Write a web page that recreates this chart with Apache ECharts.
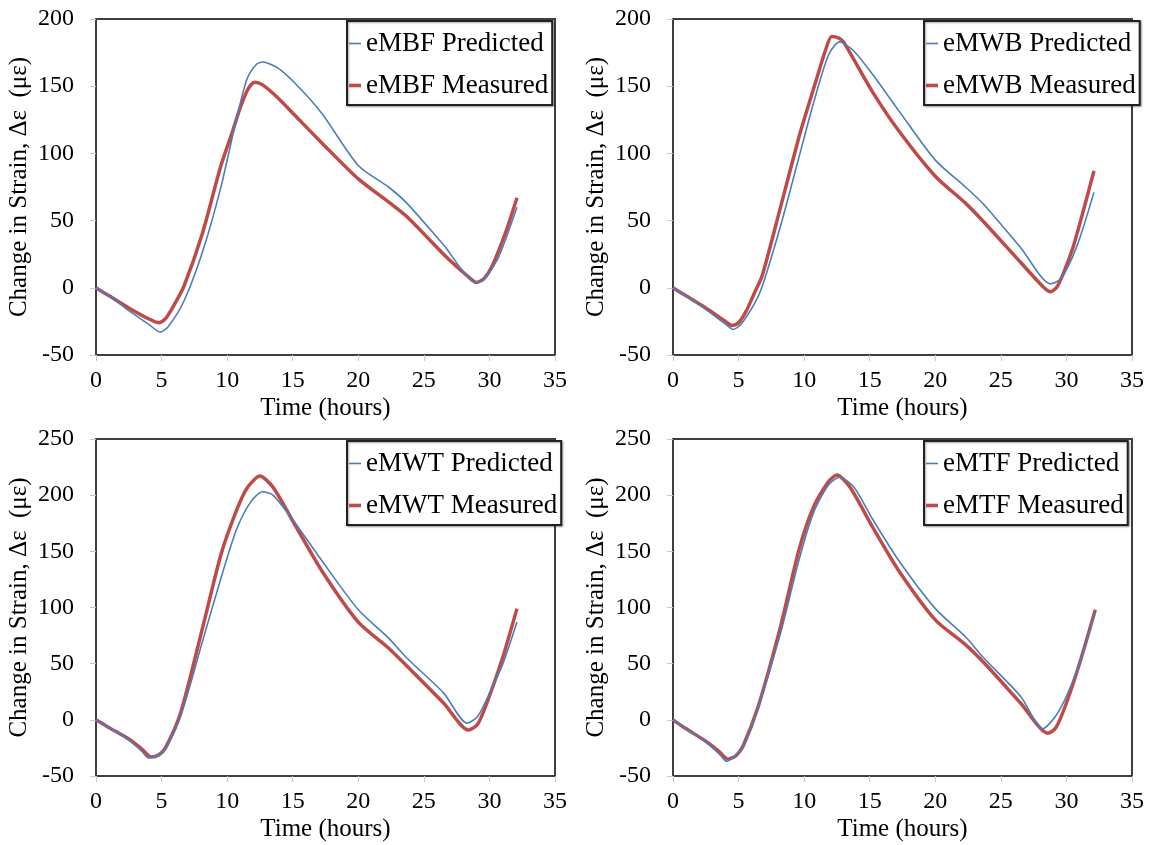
<!DOCTYPE html>
<html>
<head>
<meta charset="utf-8">
<script src="https://cdn.jsdelivr.net/npm/echarts@6/dist/echarts.min.js"></script>
<style>
  html, body { margin: 0; padding: 0; background: #ffffff; }
  #chart { width: 1157px; height: 845px; }
</style>
</head>
<body>
<div id="chart"></div>
<script>
// Strain change over time at four gauge locations: predicted vs measured.
const mbfPredTime = [0, 1, 2.5, 4, 4.9, 5.5, 6.7, 8.1, 9.5, 10.7, 11.5, 12.2, 12.7, 13.8, 15.2, 17.2, 20, 22.3, 23.7, 26.5, 29, 29.6, 30.7, 32.1];
const mbfPredicted = [0, -6, -17, -27, -33, -29, -10, 26, 74, 125, 155, 166, 168, 164, 152, 130, 91, 75, 63, 32, 4, 6, 23, 60];
const mbfMeasTime = [0, 1, 2.5, 4, 4.8, 5.3, 6, 6.7, 8.1, 9.5, 10.4, 11, 11.6, 12.1, 12.7, 13.8, 15.2, 17.2, 20, 22.3, 23.7, 26.5, 28.3, 29, 29.6, 30.2, 31.3, 32.1];
const mbfMeasured = [0, -6, -15, -23, -26, -23, -12, 1, 40, 90, 116, 134, 148, 153, 151, 142, 128, 108, 81, 64, 53, 25, 9, 4, 7, 16, 43, 67];

const mwbPredTime = [0, 1, 2.5, 4, 4.6, 5.2, 6.2, 6.8, 8.2, 9.6, 10.7, 11.85, 12.7, 13.8, 15.2, 17.2, 20, 22.3, 23.7, 26.5, 28.8, 29.6, 30.8, 32.1];
const mwbPredicted = [0, -6, -16, -27, -31, -27, -12, 1, 46, 97, 137, 173, 183, 176, 159, 132, 95, 75, 62, 30, 3, 7, 31, 71];
const mwbMeasTime = [0, 1, 2.5, 4, 4.5, 5, 5.6, 6.2, 6.8, 8.2, 9.6, 10.4, 11, 11.6, 12.1, 12.6, 13, 15.2, 17.2, 20, 22.3, 23.7, 26.5, 28.2, 28.8, 29.3, 29.9, 30.5, 31, 31.5, 32.1];
const mwbMeasured = [0, -6, -15, -25, -28, -26, -17, -4, 9, 60, 112, 138, 157, 176, 187, 186, 183, 146, 117, 83, 63, 49, 19, 1, -3, 1, 14, 30, 47, 65, 87];

const mwtPredTime = [0, 1, 2.5, 3.5, 4.0, 4.6, 5.3, 6.45, 8.15, 9.55, 10.7, 11.8, 12.7, 13.5, 15.2, 17.2, 20, 22.3, 23.7, 26.5, 28.3, 29.1, 29.9, 31, 32.1];
const mwtPredicted = [0, -7, -18, -28, -34, -32, -26, 3, 71, 127, 169, 194, 203, 200, 175, 142, 98, 73, 55, 24, -3, 3, 21, 49, 87];
const mwtMeasTime = [0, 1, 2.5, 3.5, 4.2, 4.8, 5.3, 6.45, 8.15, 9.55, 10.7, 11.5, 12.5, 13.5, 15.2, 17.2, 20, 22.3, 23.7, 26.5, 28.4, 29.1, 29.9, 31, 32.1];
const mwtMeasured = [0, -7, -17, -26, -33, -31, -25, 6, 83, 148, 186, 206, 217, 207, 173, 133, 87, 64, 48, 15, -9, -4, 18, 55, 99];

const mtfPredTime = [0, 1, 2.5, 3.5, 4.1, 4.7, 5.35, 6.5, 8.2, 9.6, 10.7, 11.85, 12.7, 13.8, 15.2, 17.2, 20, 22.3, 23.7, 26.5, 28.2, 29.1, 30, 31.1, 32.2];
const mtfPredicted = [0, -8, -20, -30, -37, -32, -25, 11, 77, 142, 184, 209, 216, 207, 179, 142, 99, 74, 55, 21, -8, 2, 21, 54, 96];
const mtfMeasTime = [0, 1, 2.5, 3.5, 4.2, 4.8, 5.35, 6.5, 8.2, 9.6, 10.7, 11.85, 12.5, 13.5, 15.2, 17.2, 20, 22.3, 23.7, 26.5, 28.6, 29.2, 30, 31.1, 32.2];
const mtfMeasured = [0, -8, -19, -28, -35, -32, -23, 12, 83, 151, 189, 212, 218, 207, 172, 133, 89, 67, 51, 15, -12, -7, 15, 54, 98];

const panelNames = ['eMBF', 'eMWB', 'eMWT', 'eMTF'];
const yMax = [200, 200, 250, 250];

const FONT = '"Liberation Serif", "Times New Roman", serif';
const BLUE = '#4a7ebb';
const RED = '#be4b48';

// legend swatches: a short horizontal bar centred in a 12x14 box
const PRED_ICON = 'path://M0,0L0,0M12,14L12,14M0,6.2H12V7.8H0Z';
const MEAS_ICON = 'path://M0,0L0,0M12,14L12,14M0,5.2H12V8.8H0Z';

const pairs = (t, v) => t.map((x, i) => [x, v[i]]);

const panels = [
  { pred: pairs(mbfPredTime, mbfPredicted), meas: pairs(mbfMeasTime, mbfMeasured) },
  { pred: pairs(mwbPredTime, mwbPredicted), meas: pairs(mwbMeasTime, mwbMeasured) },
  { pred: pairs(mwtPredTime, mwtPredicted), meas: pairs(mwtMeasTime, mwtMeasured) },
  { pred: pairs(mtfPredTime, mtfPredicted), meas: pairs(mtfMeasTime, mtfMeasured) }
];

const layout = [
  { left: 96, top: 19, height: 336 },
  { left: 673, top: 19, height: 336 },
  { left: 96, top: 439, height: 337 },
  { left: 673, top: 439, height: 337 }
];
const plotWidth = 459;

const grid = [], xAxis = [], yAxis = [], series = [], legend = [];

layout.forEach((g, i) => {
  grid.push({
    left: g.left, top: g.top, width: plotWidth, height: g.height,
    show: true, borderColor: '#3f3f3f', borderWidth: 2, backgroundColor: 'transparent'
  });
  xAxis.push({
    type: 'value', gridIndex: i, min: 0, max: 35, interval: 5,
    name: 'Time (hours)', nameLocation: 'middle', nameGap: 41,
    nameTextStyle: { fontFamily: FONT, fontSize: 25, color: '#000' },
    axisLine: { show: true, onZero: false, lineStyle: { color: '#3f3f3f', width: 2 } },
    axisTick: { show: true, length: 6, lineStyle: { color: '#c8c8c8', width: 1 } },
    axisLabel: { fontFamily: FONT, fontSize: 24, color: '#000', margin: 14 },
    splitLine: { show: false }
  });
  yAxis.push({
    type: 'value', gridIndex: i, min: -50, max: yMax[i], interval: 50,
    name: 'Change in Strain, Δε  (με)', nameLocation: 'middle', nameGap: 64,
    nameTextStyle: { fontFamily: FONT, fontSize: 25, color: '#000' },
    axisLine: { show: true, onZero: false, lineStyle: { color: '#3f3f3f', width: 2 } },
    axisTick: { show: true, length: 6, lineStyle: { color: '#c8c8c8', width: 1 } },
    axisLabel: { fontFamily: FONT, fontSize: 24, color: '#000', margin: 22 },
    splitLine: { show: false }
  });
  const nm = panelNames[i];
  series.push({
    name: nm + ' Predicted', type: 'line', xAxisIndex: i, yAxisIndex: i,
    data: panels[i].pred, showSymbol: false, symbol: 'none', smooth: 0.25,
    lineStyle: { color: BLUE, width: 1.6 }, itemStyle: { color: BLUE },
    z: 3, animation: false
  });
  series.push({
    name: nm + ' Measured', type: 'line', xAxisIndex: i, yAxisIndex: i,
    data: panels[i].meas, showSymbol: false, symbol: 'none', smooth: 0.25,
    lineStyle: { color: RED, width: 3.5 }, itemStyle: { color: RED },
    z: 2, animation: false
  });
  legend.push({
    data: [
      { name: nm + ' Predicted', icon: PRED_ICON },
      { name: nm + ' Measured', icon: MEAS_ICON }
    ],
    orient: 'vertical',
    left: g.left + 251, top: g.top + 2,
    itemWidth: 12, itemHeight: 14, itemGap: 15,
    padding: [9, 4, 6, 2],
    borderColor: '#222', borderWidth: 2, backgroundColor: '#fff',
    shadowColor: 'rgba(0,0,0,0.35)', shadowBlur: 2, shadowOffsetX: 1, shadowOffsetY: 1,
    textStyle: { fontFamily: FONT, fontSize: 27, color: '#000' },
    selectedMode: false
  });
});

const chart = echarts.init(document.getElementById('chart'), null, { renderer: 'canvas' });
chart.setOption({
  animation: false,
  backgroundColor: '#ffffff',
  grid, xAxis, yAxis, series, legend
});
</script>
</body>
</html>
